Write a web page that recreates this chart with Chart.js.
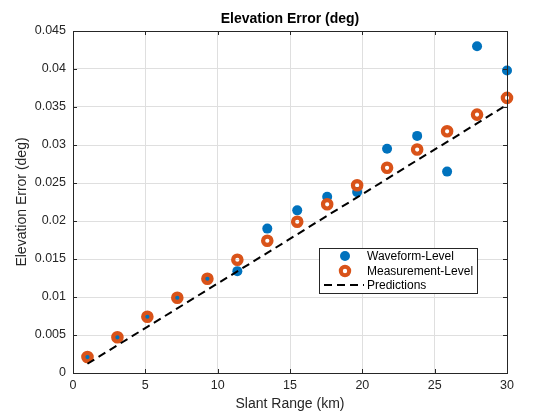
<!DOCTYPE html>
<html>
<head>
<meta charset="utf-8">
<script src="https://cdn.jsdelivr.net/npm/chart.js@4.4.0/dist/chart.umd.min.js"></script>
<style>
  html, body { margin: 0; padding: 0; background: #fff; }
  #wrap { width: 560px; height: 420px; }
</style>
</head>
<body>
<div id="wrap"><canvas id="elevChart"></canvas></div>
<script>
// slant ranges (km)
const slantRange = [1, 3.07, 5.14, 7.21, 9.29, 11.36, 13.43, 15.5, 17.57, 19.64, 21.71, 23.79, 25.86, 27.93, 30];
// elevation error (deg)
const waveformLevel = [0.0021, 0.0047, 0.0074, 0.0099, 0.0124, 0.0134, 0.0190, 0.0214, 0.0232, 0.0238, 0.0295, 0.0312, 0.0265, 0.0430, 0.0398];
const measurementLevel = [0.0021, 0.0047, 0.0074, 0.0099, 0.0124, 0.0149, 0.0174, 0.0199, 0.0222, 0.0247, 0.0270, 0.0294, 0.0318, 0.0340, 0.0362];
const predictions = [0.00122, 0.00365, 0.00608, 0.0085, 0.01095, 0.01338, 0.0158, 0.01825, 0.0207, 0.0231, 0.02555, 0.028, 0.0304, 0.03285, 0.0353];
const xTicks = [0, 5, 10, 15, 20, 25, 30];
const yTicks = [0, 0.005, 0.01, 0.015, 0.02, 0.025, 0.03, 0.035, 0.04, 0.045];
const seriesNames = ['Waveform-Level', 'Measurement-Level', 'Predictions'];

const BLUE = '#0072BD';
const ORANGE = '#D95319';
const AXIS = '#262626';
const FONT = '"Liberation Sans", Arial, Helvetica, sans-serif';

const toXY = (ys) => ys.map((y, i) => ({ x: slantRange[i], y: y }));

// MATLAB-style box, inward ticks, titles and legend
const matlabDecor = {
    id: 'matlabDecor',
    afterDraw(chart) {
        const ctx = chart.ctx;
        const a = chart.chartArea;
        const xs = chart.scales.x, ys = chart.scales.y;
        ctx.save();
        ctx.strokeStyle = AXIS;
        ctx.lineWidth = 1;
        ctx.beginPath();
        xTicks.forEach(t => {
            const px = Math.round(xs.getPixelForValue(t)) + 0.5;
            ctx.moveTo(px, a.bottom); ctx.lineTo(px, a.bottom - 4);
            ctx.moveTo(px, a.top); ctx.lineTo(px, a.top + 4);
        });
        yTicks.forEach(t => {
            const py = Math.round(ys.getPixelForValue(t)) + 0.5;
            ctx.moveTo(a.left, py); ctx.lineTo(a.left + 4, py);
            ctx.moveTo(a.right, py); ctx.lineTo(a.right - 4, py);
        });
        ctx.stroke();
        ctx.strokeRect(Math.round(a.left) + 0.5, Math.round(a.top) + 0.5,
            Math.round(a.right - a.left), Math.round(a.bottom - a.top));

        // titles
        ctx.fillStyle = '#000';
        ctx.textAlign = 'center';
        ctx.textBaseline = 'middle';
        ctx.font = 'bold 14px ' + FONT;
        ctx.fillText('Elevation Error (deg)', (a.left + a.right) / 2, 19);
        ctx.fillStyle = AXIS;
        ctx.font = '14px ' + FONT;
        ctx.fillText('Slant Range (km)', (a.left + a.right) / 2, 404);
        ctx.save();
        ctx.translate(22, (a.top + a.bottom) / 2);
        ctx.rotate(-Math.PI / 2);
        ctx.fillText('Elevation Error (deg)', 0, 0);
        ctx.restore();

        // legend box
        const lx = 319, ly = 248, lw = 158, lh = 45;
        ctx.fillStyle = '#fff';
        ctx.fillRect(lx, ly, lw, lh);
        ctx.strokeStyle = AXIS;
        ctx.strokeRect(lx + 0.5, ly + 0.5, lw, lh);
        ctx.font = '12px ' + FONT;
        ctx.textAlign = 'left';
        const rows = [256, 271, 285];
        // waveform marker
        ctx.fillStyle = BLUE;
        ctx.beginPath(); ctx.arc(345, rows[0], 5, 0, Math.PI * 2); ctx.fill();
        // measurement marker
        ctx.strokeStyle = ORANGE; ctx.lineWidth = 4;
        ctx.beginPath(); ctx.arc(345, rows[1], 4.2, 0, Math.PI * 2); ctx.stroke();
        // predictions line
        ctx.strokeStyle = '#000'; ctx.lineWidth = 2;
        ctx.setLineDash([8, 5]);
        ctx.beginPath(); ctx.moveTo(324, rows[2]); ctx.lineTo(364, rows[2]); ctx.stroke();
        ctx.setLineDash([]);
        ctx.fillStyle = '#000';
        seriesNames.forEach((n, i) => ctx.fillText(n, 367, rows[i] + 0.5));
        ctx.restore();
    }
};

new Chart(document.getElementById('elevChart').getContext('2d'), {
    type: 'scatter',
    data: {
        datasets: [{
            label: seriesNames[2],
            type: 'line',
            data: toXY(predictions),
            borderColor: '#000',
            borderWidth: 2,
            borderDash: [8, 5],
            pointRadius: 0,
            fill: false,
            tension: 0,
            clip: false,
            order: 0
        }, {
            label: seriesNames[1],
            data: toXY(measurementLevel),
            pointRadius: 4.2,
            pointBorderWidth: 4.2,
            pointBorderColor: ORANGE,
            pointBackgroundColor: 'rgba(0,0,0,0)',
            clip: false,
            order: 1
        }, {
            label: seriesNames[0],
            data: toXY(waveformLevel),
            pointRadius: 5,
            pointBorderWidth: 0,
            pointBackgroundColor: BLUE,
            clip: false,
            order: 2
        }]
    },
    options: {
        responsive: true,
        maintainAspectRatio: false,
        animation: false,
        layout: { padding: { left: 0, right: 53, top: 31, bottom: 0 } },
        plugins: { legend: { display: false }, tooltip: { enabled: false } },
        scales: {
            x: {
                type: 'linear',
                min: 0, max: 30,
                afterFit: (s) => { s.height = 47; },
                afterBuildTicks: (s) => { s.ticks = xTicks.map(v => ({ value: v })); },
                grid: { color: '#dfdfdf', drawTicks: false },
                border: { display: false },
                ticks: { color: AXIS, padding: 5, font: { family: FONT, size: 12.5 }, maxRotation: 0 }
            },
            y: {
                type: 'linear',
                min: 0, max: 0.045,
                afterFit: (s) => { s.width = 73; },
                afterBuildTicks: (s) => { s.ticks = yTicks.map(v => ({ value: v })); },
                grid: { color: '#dfdfdf', drawTicks: false },
                border: { display: false },
                ticks: {
                    color: AXIS, padding: 7, font: { family: FONT, size: 12.5 },
                    callback: (v) => String(parseFloat(v.toFixed(4)))
                }
            }
        }
    },
    plugins: [matlabDecor]
});
</script>
</body>
</html>
